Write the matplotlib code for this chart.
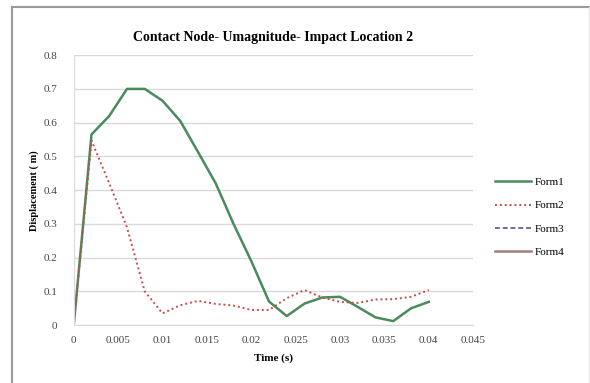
import matplotlib.pyplot as plt
from matplotlib.lines import Line2D

# Time (s) samples
time_s = [0, 0.002, 0.004, 0.006, 0.008, 0.010, 0.012, 0.014, 0.016, 0.018, 0.020,
          0.022, 0.024, 0.026, 0.028, 0.030, 0.032, 0.034, 0.036, 0.038, 0.040]

form1 = [0, 0.565, 0.62, 0.70, 0.70, 0.665, 0.605, 0.513, 0.42, 0.30, 0.19,
         0.07, 0.027, 0.064, 0.082, 0.084, 0.054, 0.023, 0.012, 0.05, 0.069]
form2 = [0, 0.547, 0.42, 0.29, 0.10, 0.035, 0.059, 0.072, 0.063, 0.058, 0.045,
         0.045, 0.08, 0.104, 0.082, 0.069, 0.066, 0.076, 0.077, 0.084, 0.104]
# Form3 / Form4 are not visible in the plot area, only in the legend
form3 = []
form4 = []

x_ticks = [0, 0.005, 0.01, 0.015, 0.02, 0.025, 0.03, 0.035, 0.04, 0.045]
x_labels = ["0", "0.005", "0.01", "0.015", "0.02", "0.025", "0.03", "0.035", "0.04", "0.045"]
y_ticks = [0, 0.1, 0.2, 0.3, 0.4, 0.5, 0.6, 0.7, 0.8]

plt.rcParams['font.family'] = ['Liberation Serif', 'DejaVu Serif']

fig = plt.figure(figsize=(5.9, 3.83), dpi=100)
ax = fig.add_axes([0.125, 0.151, 0.677, 0.705])

ax.plot(time_s, form1, color="#4a8a5c", lw=1.8, label="Form1")
ax.plot(time_s, form2, color="#c0504d", lw=1.4, ls=(0, (1, 1.5)), label="Form2")
ax.plot(form3, form3, color="#7a64a8", lw=1.4, ls=(0, (2.5, 1.5)), label="Form3")
ax.plot(form4, form4, color="#a08080", lw=1.8, label="Form4")

ax.set_xlim(0, 0.045)
ax.set_ylim(0, 0.8)
ax.set_xticks(x_ticks)
ax.set_xticklabels(x_labels)
ax.set_yticks(y_ticks)
ax.set_yticklabels([f"{v:g}" for v in y_ticks])
ax.tick_params(length=0, labelsize=8, colors="#444444")
ax.tick_params(axis="y", pad=12)
ax.tick_params(axis="x", pad=8)

ax.grid(axis="y", color="#d9d9d9", lw=1)
ax.set_axisbelow(True)
for s in ["top", "right"]:
    ax.spines[s].set_visible(False)
ax.spines["left"].set_color("#d9d9d9")
ax.spines["bottom"].set_color("#d9d9d9")

ax.set_title("Contact Node- Umagnitude- Impact Location 2", fontsize=10,
             fontweight="bold", pad=10)
ax.set_xlabel("Time (s)", fontsize=8, fontweight="bold", labelpad=6)
ax.set_ylabel("Displacement ( m)", fontsize=7.5, fontweight="bold", labelpad=3)

ax.legend(loc="center left", bbox_to_anchor=(1.03, 0.4), frameon=False,
          fontsize=8, handlelength=3.2, labelspacing=1.2, handletextpad=0.4)

# outer chart border (top and left visible, right faint)
fig.add_artist(Line2D([0.02, 1.0], [0.982, 0.982], transform=fig.transFigure,
                      color="#9a9a9a", lw=1.5))
fig.add_artist(Line2D([0.02, 0.02], [0.0, 0.982], transform=fig.transFigure,
                      color="#9a9a9a", lw=1.5))
fig.add_artist(Line2D([0.998, 0.998], [0.0, 0.982], transform=fig.transFigure,
                      color="#e6e6e6", lw=1))

fig.savefig("out.png", dpi=100)
